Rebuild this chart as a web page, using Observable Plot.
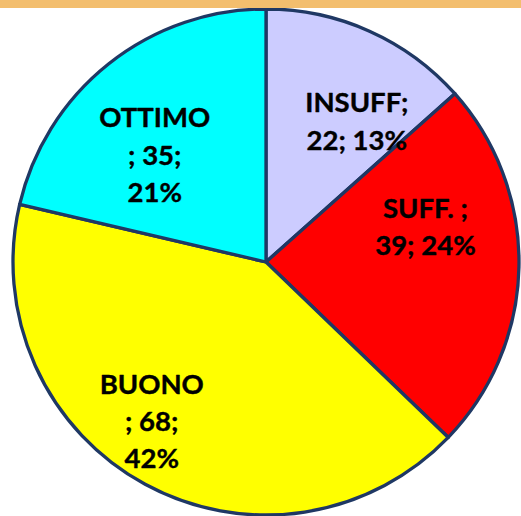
<!DOCTYPE html>
<html>
<head>
<meta charset="utf-8">
<script src="https://cdn.jsdelivr.net/npm/d3@7"></script>
<script src="https://cdn.jsdelivr.net/npm/@observablehq/plot@0.6"></script>
<style>
  html, body { margin: 0; padding: 0; background: #fff; }
  #wrap { position: relative; width: 521px; height: 516px; overflow: hidden; }
  #bar { position: absolute; left: 0; top: 0; width: 521px; height: 8px; background: #F3BE6E; }
</style>
</head>
<body>
<div id="wrap"><div id="bar"></div></div>
<script>
// --- data ---
const categories = ["INSUFF", "SUFF.", "BUONO", "OTTIMO"];
const counts = [22, 39, 68, 35];
const percents = [13, 24, 42, 21];
const labelTexts = ["INSUFF;\n22; 13%", "SUFF. ;\n39; 24%", "BUONO\n; 68;\n42%", "OTTIMO\n; 35;\n21%"];
const sliceColors = ["#CCCCFF", "#FF0000", "#FFFF00", "#00FFFF"];

// --- layout (style, not data) ---
const W = 521, H = 516, R = 253, CX = 266, CY = 262;
const labelNudgePx = [[22, 9], [-8, -41], [-35, 10], [-8, 21]];

const slices = d3.pie().sort(null).value(d => d.count)(
  categories.map((c, i) => ({ category: c, count: counts[i], percent: percents[i], label: labelTexts[i], color: sliceColors[i] }))
);

const labelData = slices.map((s, i) => {
  const mid = (s.startAngle + s.endAngle) / 2;
  const r = 0.66;
  return {
    label: s.data.label,
    x: r * Math.sin(mid) + labelNudgePx[i][0] / R,
    y: r * Math.cos(mid) - labelNudgePx[i][1] / R
  };
});

const pieMark = (index, scales) => {
  const g = d3.create("svg:g");
  const x0 = scales.x(0), y0 = scales.y(0);
  const rad = scales.x(1) - scales.x(0);
  const arc = d3.arc().innerRadius(0).outerRadius(rad);
  g.attr("transform", `translate(${x0},${y0})`)
    .selectAll("path")
    .data(slices)
    .join("path")
    .attr("d", arc)
    .attr("fill", d => d.data.color)
    .attr("stroke", "#1F3864")
    .attr("stroke-width", 3.3)
    .attr("stroke-linejoin", "round");
  return g.node();
};

const chart = Plot.plot({
  width: W,
  height: H,
  margin: 0,
  style: { background: "transparent", overflow: "visible" },
  x: { domain: [-CX / R, (W - CX) / R], range: [0, W], axis: null },
  y: { domain: [(CY - H) / R, CY / R], range: [H, 0], axis: null },
  marks: [
    pieMark,
    Plot.text(labelData, {
      x: "x", y: "y", text: "label",
      fontSize: 27.5, fontWeight: "bold", fontFamily: "Lato, 'Open Sans', sans-serif",
      fill: "#000", stroke: "#000", strokeWidth: 0.4,
      lineHeight: 1.35, textAnchor: "middle", lineAnchor: "middle"
    })
  ]
});
document.getElementById("wrap").insertBefore(chart, document.getElementById("bar"));
</script>
</body>
</html>
